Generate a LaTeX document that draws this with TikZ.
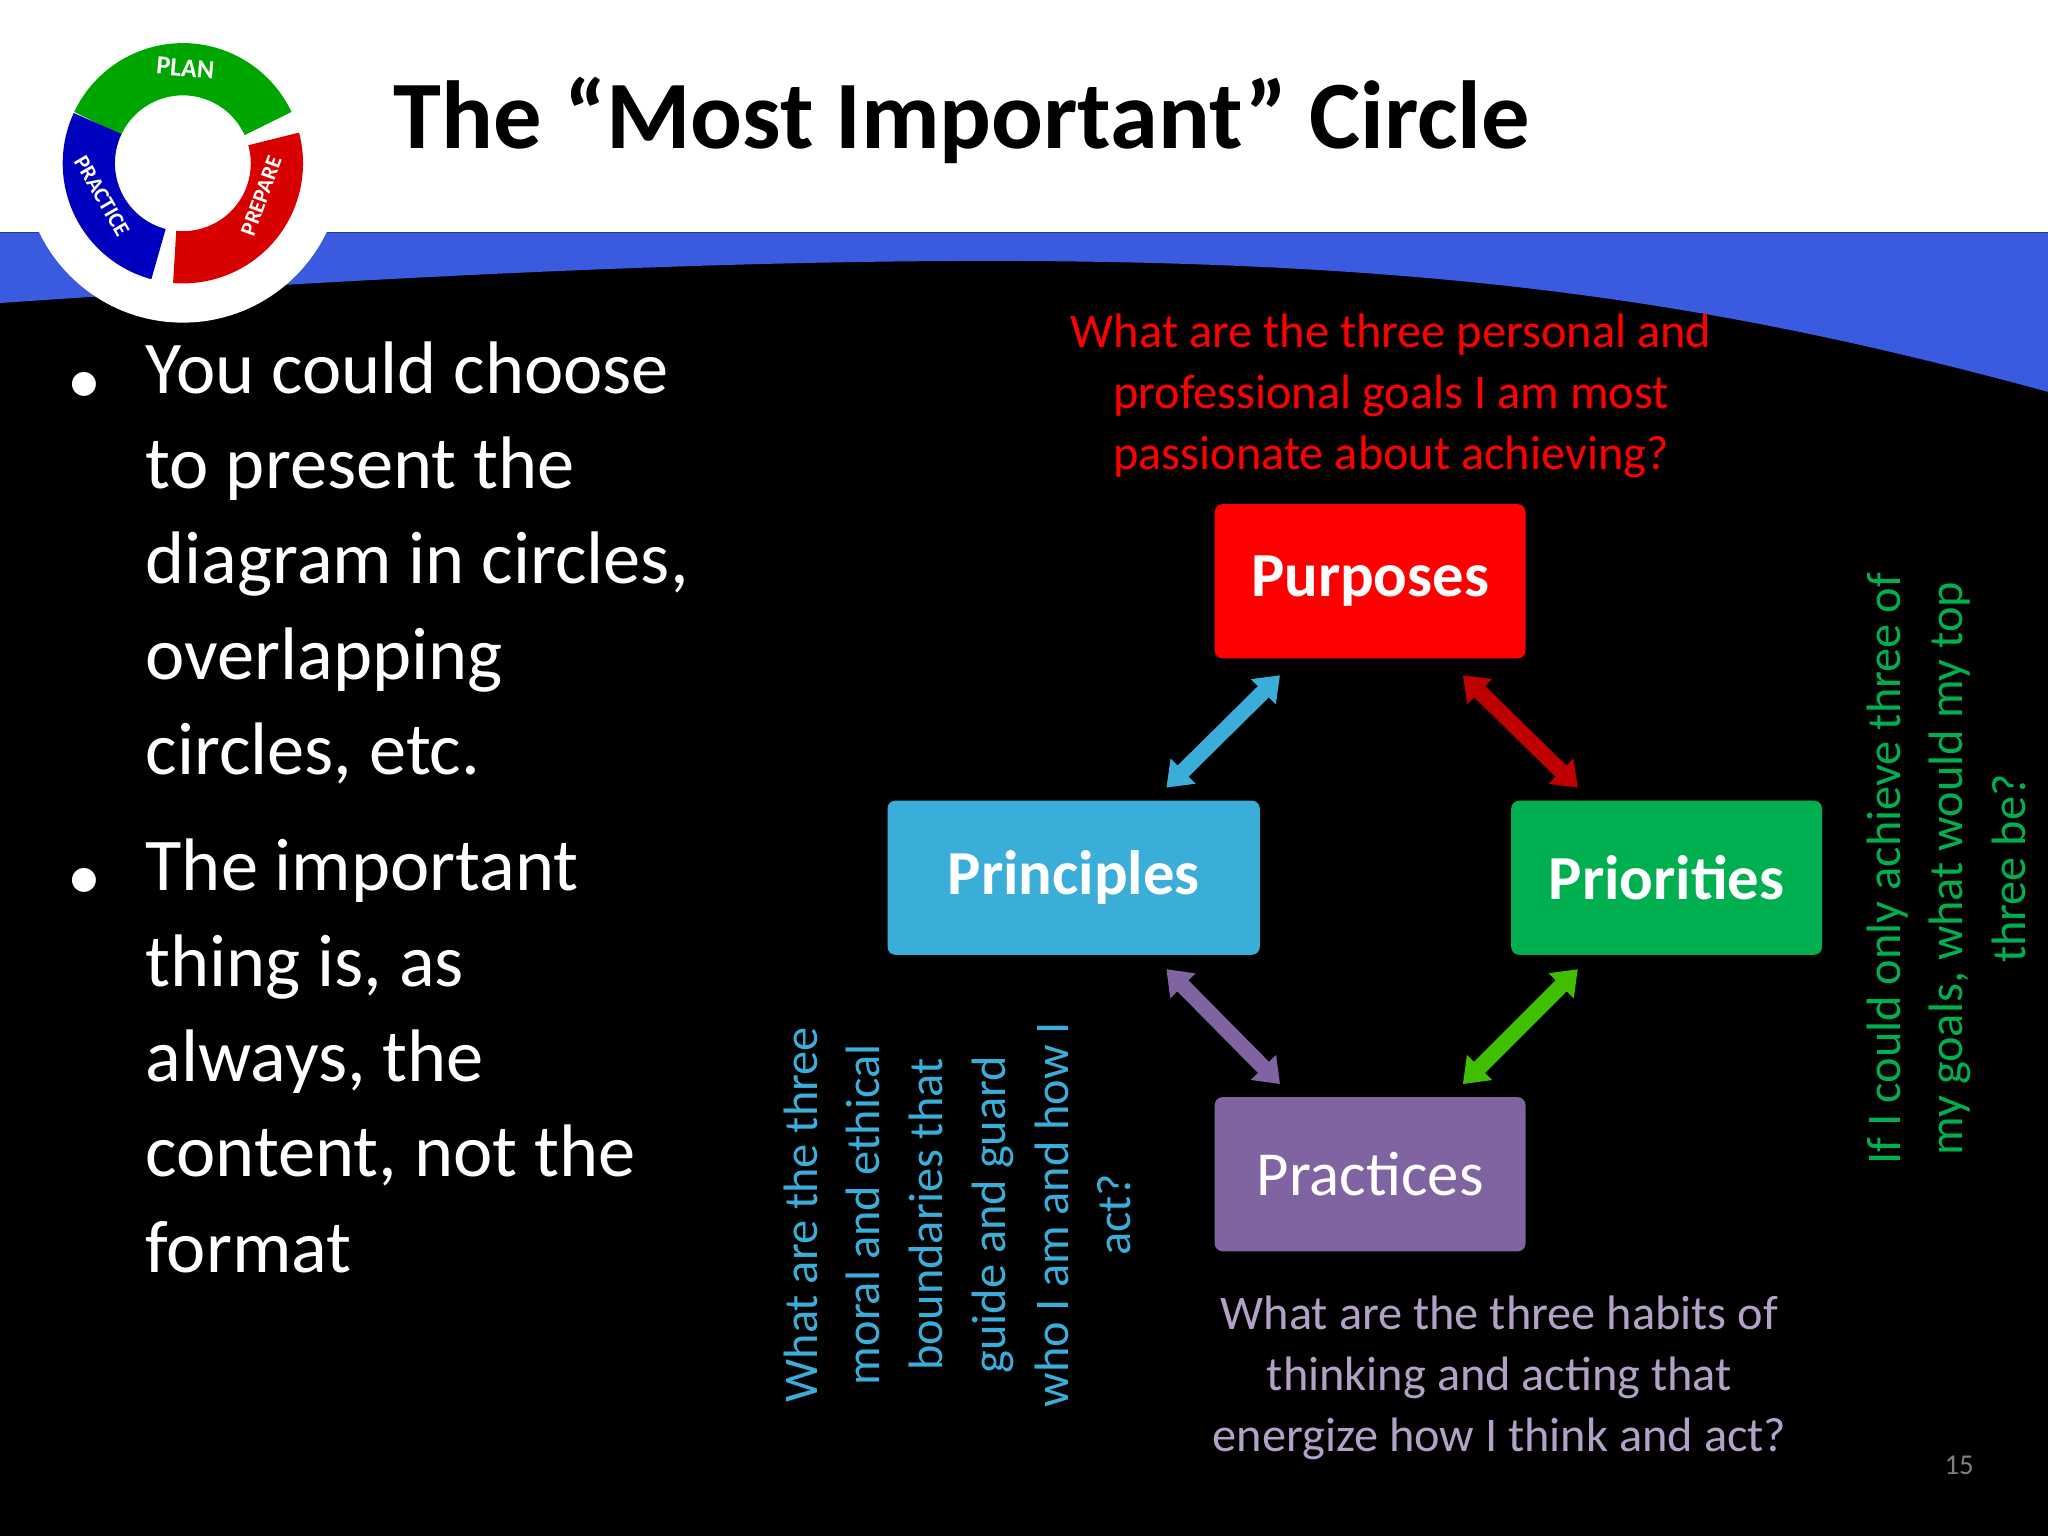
\documentclass[tikz,border=0pt]{standalone}
\usepackage{fontspec}
\setmainfont{Carlito}
\usetikzlibrary{arrows.meta,shadows}
\definecolor{pblue}{HTML}{3AAED8}
\definecolor{pgreen}{HTML}{00B050}
\definecolor{ppurple}{HTML}{8064A2}
\definecolor{ltpurple}{HTML}{B3A2C7}
\definecolor{band}{HTML}{3A5BE0}
\begin{document}
\begin{tikzpicture}[x=1pt,y=-1pt,
  box/.style={draw=none,rounded corners=6pt,minimum width=#1,minimum height=118pt,font=\bfseries\fontsize{48}{50}\selectfont,text=white},
  dbl/.style={line width=12pt,{Triangle[width=26pt,length=18pt]}-{Triangle[width=26pt,length=18pt]}},
  bul/.style={anchor=north west,text=white,font=\fontsize{57}{73}\selectfont,align=left},
  logotxt/.style={white,font=\bfseries\fontsize{20}{20}\selectfont}]
\useasboundingbox (0,0) rectangle (1568,1176);
\fill[black] (0,0) rectangle (1568,1176);
\fill[white] (0,0) rectangle (1568,178);
\fill[band] (0,178) -- (1568,178) -- (1568,300) .. controls (1200,200) and (900,170) .. (0,232) -- cycle;
% logo
\fill[white] (140,125) circle (122);
\draw[line width=40pt,green!65!black] (140,125) ++(-155:72) arc (-155:-25:72);
\draw[line width=40pt,red!85!black] (140,125) ++(-15:72) arc (-15:95:72);
\draw[line width=40pt,blue!75!black] (140,125) ++(105:72) arc (105:205:72);
\node[logotxt,rotate=-5] (lplan) at (142,52) {PLAN};
\node[logotxt,rotate=70,font=\bfseries\fontsize{17}{17}\selectfont] (lprep) at (200,150) {PREPARE};
\node[logotxt,rotate=-60,font=\bfseries\fontsize{17}{17}\selectfont] (lprac) at (78,150) {PRACTICE};
\node[anchor=west,font=\bfseries\fontsize{74}{74}\selectfont] (title) at (298,92) {The “Most Important” Circle};
% bullets
\node[bul] (b1) at (108,258) {You could choose\\to present the\\diagram in circles,\\overlapping\\circles, etc.};
\node[bul] (b2) at (108,639) {The important\\thing is, as\\always, the\\content, not the\\format};
\node[text=white,font=\fontsize{52}{52}\selectfont] (d1) at (65,297) {•};
\node[text=white,font=\fontsize{52}{52}\selectfont] (d2) at (65,677) {•};
% boxes
\node[box=238pt,fill=red] (pur) at (1049,445) {Purposes};
\node[box=285pt,fill=pblue] (pri) at (822,672) {Principles};
\node[box=238pt,fill=pgreen] (prio) at (1276,672) {Priorities};
\node[box=238pt,fill=ppurple,font=\fontsize{48}{50}\selectfont] (pra) at (1049,899) {Practices};
\coordinate (a1) at (980,517); \coordinate (a2) at (893,603);
\coordinate (b1a) at (1120,517); \coordinate (b2a) at (1208,603);
\coordinate (c1) at (893,742); \coordinate (c2) at (980,830);
\coordinate (e1) at (1208,742); \coordinate (e2) at (1120,830);
\draw[dbl,pblue] (a1) -- (a2);
\draw[dbl,red!75!black] (b1a) -- (b2a);
\draw[dbl,ppurple] (c1) -- (c2);
\draw[dbl,green!50!olive] (e1) -- (e2);
% questions
\node[text=red,align=center,font=\fontsize{37}{47}\selectfont] (q1) at (1065,303) {What are the three personal and\\professional goals I am most\\passionate about achieving?};
\node[text=ltpurple,align=center,font=\fontsize{37}{47}\selectfont] (q2) at (1148,1055) {What are the three habits of\\thinking and acting that\\energize how I think and act?};
\node[text=pblue,align=center,rotate=90,font=\fontsize{37}{48}\selectfont] (q3) at (733,930) {What are the three\\moral and ethical\\boundaries that\\guide and guard\\who I am and how I\\act?};
\node[text=pgreen,align=center,rotate=90,font=\fontsize{37}{48}\selectfont] (q4) at (1490,665) {If I could only achieve three of\\my goals, what would my top\\three be?};
\node[text=gray,font=\fontsize{22}{22}\selectfont] (pg) at (1500,1122) {15};
\end{tikzpicture}
\end{document}
